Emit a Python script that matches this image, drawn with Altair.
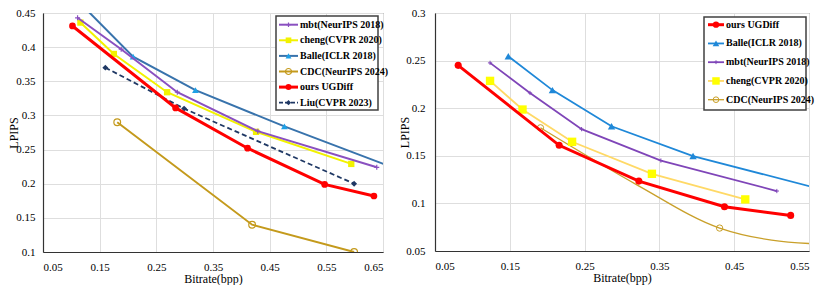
import altair as alt
import pandas as pd

# ---------------- Left panel data ----------------
L_mbt_x = [0.111, 0.188, 0.287, 0.429, 0.639]
L_mbt_y = [0.443, 0.397, 0.334, 0.277, 0.224]
L_cheng_x = [0.116, 0.175, 0.269, 0.426, 0.594]
L_cheng_y = [0.436, 0.390, 0.334, 0.276, 0.229]
L_balle_x = [0.110, 0.209, 0.319, 0.476, 0.700]
L_balle_y = [0.469, 0.386, 0.337, 0.284, 0.2135]
L_cdc_x = [0.181, 0.419, 0.599]
L_cdc_y = [0.290, 0.140, 0.100]
L_ours_x = [0.102, 0.284, 0.411, 0.547, 0.634]
L_ours_y = [0.431, 0.311, 0.252, 0.199, 0.182]
L_liu_x = [0.160, 0.299, 0.599]
L_liu_y = [0.370, 0.310, 0.200]

# ---------------- Right panel data ----------------
R_ours_x = [0.081, 0.216, 0.3225, 0.437, 0.5255]
R_ours_y = [0.245, 0.161, 0.1234, 0.0965, 0.0874]
R_balle_x = [0.148, 0.207, 0.286, 0.395, 0.600]
R_balle_y = [0.2545, 0.219, 0.181, 0.1497, 0.108]
R_mbt_x = [0.1236, 0.177, 0.246, 0.352, 0.507]
R_mbt_y = [0.2476, 0.216, 0.178, 0.145, 0.113]
R_cheng_x = [0.1236, 0.167, 0.2333, 0.340, 0.4648]
R_cheng_y = [0.2287, 0.1986, 0.1647, 0.1311, 0.1042]
R_cdc_x = [0.191, 0.321, 0.4305, 0.50, 0.60]
R_cdc_y = [0.1794, 0.119, 0.0741, 0.0615, 0.056]
R_cdc_marker = [True, False, True, False, False]

L_xticks = [0.05, 0.15, 0.25, 0.35, 0.45, 0.55, 0.65]
L_yticks = [0.1, 0.15, 0.2, 0.25, 0.3, 0.35, 0.4, 0.45]
R_xticks = [0.05, 0.15, 0.25, 0.35, 0.45, 0.55]
R_yticks = [0.05, 0.1, 0.15, 0.2, 0.25, 0.3]

FONT = "'Liberation Serif', 'Times New Roman', Times, serif"
PLUS = "M-1,0H1M0,-1V1"

MBT = "mbt(NeurIPS 2018)"
CHENG = "cheng(CVPR 2020)"
BALLE = "Balle(ICLR 2018)"
CDC = "CDC(NeurIPS 2024)"
OURS = "ours UGDiff"
LIU = "Liu(CVPR 2023)"

left_series = [
    (CDC, L_cdc_x, L_cdc_y, None, dict(lc="#c49a1c", lw=2, shape="circle", filled=False, mc="#c49a1c", ms=45, msw=1.2)),
    (LIU, L_liu_x, L_liu_y, None, dict(lc="#1f3864", lw=1.8, dash=[5, 3], shape="diamond", filled=True, mc="#1f3864", ms=35, msw=1)),
    (BALLE, L_balle_x, L_balle_y, [False, True, True, True, False], dict(lc="#3873ac", lw=2, shape="triangle-up", filled=True, mc="#1fa0e6", ms=45, msw=1)),
    (CHENG, L_cheng_x, L_cheng_y, None, dict(lc="#f2f200", lw=2, shape="square", filled=True, mc="#f2f200", ms=40, msw=1)),
    (MBT, L_mbt_x, L_mbt_y, None, dict(lc="#8a50c0", lw=2, shape=PLUS, filled=False, mc="#8a50c0", ms=25, msw=1.2)),
    (OURS, L_ours_x, L_ours_y, None, dict(lc="#ff0000", lw=3, shape="circle", filled=True, mc="#ff0000", ms=45, msw=1)),
]
left_legend_order = [MBT, CHENG, BALLE, CDC, OURS, LIU]

right_series = [
    (CDC, R_cdc_x, R_cdc_y, R_cdc_marker, dict(lc="#c9a02a", lw=1.3, shape="circle", filled=False, mc="#c9a02a", ms=40, msw=1, interp="monotone")),
    (CHENG, R_cheng_x, R_cheng_y, None, dict(lc="#ffd966", lw=1.8, shape="square", filled=True, mc="#ffff00", ms=70, msw=1)),
    (MBT, R_mbt_x, R_mbt_y, None, dict(lc="#7f45b8", lw=1.8, shape=PLUS, filled=False, mc="#7f45b8", ms=18, msw=1)),
    (BALLE, R_balle_x, R_balle_y, [True, True, True, True, False], dict(lc="#1f88d8", lw=1.8, shape="triangle-up", filled=True, mc="#1f88d8", ms=55, msw=1)),
    (OURS, R_ours_x, R_ours_y, None, dict(lc="#ff0000", lw=3, shape="circle", filled=True, mc="#ff0000", ms=50, msw=1)),
]
right_legend_order = [OURS, BALLE, MBT, CHENG, CDC]


def panel(series, legend_order, xdom, ydom, xticks, yticks, w, h, ytitle_x, ylabpad,
          box, sym_x, text_x, leg_y):
    xaxis = alt.Axis(title="Bitrate(bpp)", values=xticks, format=".2f", titleY=26,
                     titleBaseline="middle", labelPadding=9,
                     labelFont=FONT, titleFont=FONT)
    yaxis = alt.Axis(title="LPIPS", values=yticks, format="~g", titleX=ytitle_x,
                     titleBaseline="middle", labelPadding=ylabpad,
                     labelFont=FONT, titleFont=FONT)
    xs = alt.Scale(domain=xdom, nice=False, zero=False)
    ys = alt.Scale(domain=ydom, nice=False, zero=False)
    data_layers = []
    styles = {}
    for name, xv, yv, marks, st in series:
        styles[name] = st
        if marks is None:
            marks = [True] * len(xv)
        df = pd.DataFrame({"x": xv, "y": yv, "m": marks})
        base = alt.Chart(df).encode(
            x=alt.X("x:Q", scale=xs, axis=xaxis),
            y=alt.Y("y:Q", scale=ys, axis=yaxis),
        )
        lkw = dict(color=st["lc"], strokeWidth=st["lw"], clip=True,
                   interpolate=st.get("interp", "linear"))
        if "dash" in st:
            lkw["strokeDash"] = st["dash"]
        data_layers.append(base.mark_line(**lkw))
        data_layers.append(
            base.mark_point(shape=st["shape"], filled=st["filled"], size=st["ms"],
                            color=st["mc"], strokeWidth=st["msw"], opacity=1, clip=True)
            .transform_filter("datum.m")
        )

    legY = alt.Y("name:N", scale=alt.Scale(type="point", domain=legend_order,
                                           range=leg_y, padding=0), axis=None)
    box_layer = alt.Chart(pd.DataFrame({"a": [0]})).mark_rect(
        fill="white", stroke="#404040", strokeWidth=1.5
    ).encode(x=alt.value(box[0]), x2=alt.value(box[1]), y=alt.value(box[2]), y2=alt.value(box[3]))
    leg_layers = [box_layer]
    for name in legend_order:
        st = styles[name]
        ldf = pd.DataFrame({"name": [name]})
        rkw = dict(color=st["lc"], strokeWidth=st["lw"])
        if "dash" in st:
            rkw["strokeDash"] = [4, 2]
        lb = alt.Chart(ldf)
        leg_layers.append(lb.mark_rule(**rkw).encode(
            x=alt.value(sym_x[0]), x2=alt.value(sym_x[1]), y=legY))
        leg_layers.append(lb.mark_point(shape=st["shape"], filled=st["filled"], size=st["ms"] * 0.8,
                                        color=st["mc"], strokeWidth=st["msw"], opacity=1).encode(
            x=alt.value((sym_x[0] + sym_x[1]) / 2), y=legY))
        leg_layers.append(lb.mark_text(align="left", baseline="middle", font=FONT,
                                       fontWeight="bold", fontSize=10, color="black").encode(
            x=alt.value(text_x), y=legY, text="name:N"))

    return alt.layer(alt.layer(*data_layers), alt.layer(*leg_layers)).resolve_scale(
        y="independent").properties(width=w, height=h)


left = panel(left_series, left_legend_order, [0.05, 0.65], [0.1, 0.45], L_xticks, L_yticks,
             340, 239, -30, 8,
             box=(233, 335, 3, 97), sym_x=(236, 255), text_x=257,
             leg_y=[11.7, 89.7])
right = panel(right_series, right_legend_order, [0.05, 0.55], [0.05, 0.3], R_xticks, R_yticks,
              374, 238, -31, 10,
              box=(269, 371, 4, 97), sym_x=(273, 289), text_x=291,
              leg_y=[11.7, 86.7])

chart = alt.hconcat(left, right, spacing=52, bounds="flush").properties(
    padding={"left": -2, "top": -2, "right": 0, "bottom": 0},
    background="white",
).configure(font=FONT).configure_view(stroke="#595959", strokeWidth=1).configure_axis(
    labelFont=FONT, titleFont=FONT, labelFontSize=11, titleFontSize=12,
    labelColor="black", titleColor="black", titleFontWeight="normal",
    gridColor="#dedede", gridWidth=1, domainColor="#333333", domainWidth=1.2, ticks=False,
)

chart.save("out.html", embed_options={"renderer": "svg", "actions": False})
